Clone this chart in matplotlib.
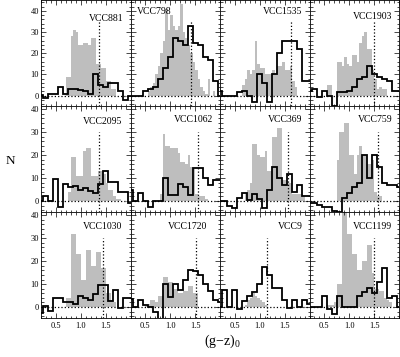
import matplotlib
matplotlib.use('Agg')
import matplotlib.pyplot as plt
import numpy as np
from matplotlib.ticker import MultipleLocator

plt.rcParams['font.family'] = ['Liberation Serif', 'DejaVu Serif']
plt.rcParams['mathtext.fontset'] = 'custom'
plt.rcParams['mathtext.rm'] = 'Liberation Serif'
plt.rcParams['mathtext.it'] = 'Liberation Serif:italic'

# galaxy names, row by row
names = ['VCC881', 'VCC798', 'VCC1535', 'VCC1903',
         'VCC2095', 'VCC1062', 'VCC369', 'VCC759',
         'VCC1030', 'VCC1720', 'VCC9', 'VCC1199']

# colour of the dotted vertical line in each panel
cut = [1.36, 1.41, 1.62, 1.49,
       1.37, 1.56, 1.56, 1.57,
       1.44, 1.51, 1.15, 1.50]

# black histograms: 0.1 bins centred on 0.2, 0.3, ..., 2.0
black = [
    [0.5, -1, 1, 1, 4, 1, 3, 3, 2.5, 2, 1, 10, 5, 4, 6, 6, 2, -2, 0],
    [0, 0, 0, 2, 3, 4, 8, 13, 18, 27, 26, 24, 33, 25, 24, 18, 17, 7, 0],
    [2, 0, 0, 0, 1.5, 2, 0, -3, 10, 6, -3, 10, 20, 26, 26, 26, 22, 7, 7],
    [2, 3, -0.5, 2, 0, -5, 1.5, 1.5, 2, 4, 8, 9, 14, 10, 9, 8, 7, 2, 2],
    [0, 2, 0, 9.5, -2.5, 7.5, 6, 6.5, 5, 5.5, 4.5, 3.5, 7.5, 13, 8.5, 8.5, 4, 4, -1],
    [5, 0, 3.5, 0, -2.5, 0, 0, 10, 2.5, 2.5, 7.5, 6, 2.5, 14.5, 14.5, 10, 7, 9, 9],
    [0, 0, -2, -3, 1.5, 3.5, 0.5, 3, 1, -3, 5, 15, 10, 7, 12, 4, 7, 2, 2],
    [-1, -1, -1.7, -2.7, -2.7, -4.3, -4.9, 1.4, 3.5, 6, 8, 20, 10, 20, 15, 8, 7, 7, 6],
    [-2.5, 0.5, -1.5, 4, 4, 2, 2, 1.5, 5, 4, 3, 5.5, 9.5, 9.5, 2.5, 7.5, -0.5, 4, 4],
    [3.5, 0, 3, 1, 0, -2, -6, 10, 4.5, 10, 7.5, 12, 16, 15.5, 14, 10, 7, 3, 2],
    [0, 7.5, 0, 7.5, -1, 2.5, 5, 6.5, 10, 17.5, 14, 8.5, 8.5, 3, -0.5, 3, 0, 3, 1.5],
    [0, 0, 0, 5, -1, -3, 5, 0, 0, 0, 5, 6.5, 8.5, 6, 11, 17, 4, 5, 0],
]

# grey histograms: 0.05 bins, first bin starting at gray_start
gray_start = [0.70, 0.55, 0.65, 0.55,
              0.75, 0.80, 0.70, 0.75,
              0.70, 0.50, 0.70, 0.55]
gray = [
    [9, 9, 28, 31, 30, 24, 24, 25, 25, 24, 27, 27, 15, 15, 13, 13, 7, 7, 3, 3],
    [2, 4, 6, 10, 14, 20, 26, 41, 31, 38, 33, 31, 33, 43, 30, 27, 24, 20, 16,
     12, 8, 4, 2, 1, 8, 0, 2],
    [5, 8, 12, 10, 12, 26, 15, 13, 13, 10, 10, 10, 12, 10, 14, 14, 16, 12, 12,
     14, 7, 4],
    [5, 5, 0, 0, 16, 16, 14, 18, 15, 14, 19, 19, 16, 25, 28, 30, 22, 22, 12, 8,
     3, 4, 3, 3],
    [4, 19, 19, 11, 11, 11, 22, 23, 23, 11, 11, 11, 13, 13, 12, 8, 5, 5, 2, 1, 1],
    [3, 29, 24, 24, 23, 23, 23, 21, 17, 17, 16, 20, 15, 14, 3, 2, 2, 2, 1],
    [3, 5, 8, 25, 25, 20, 19, 19, 22, 13, 13, 28, 28, 32, 32, 9, 9, 8, 8, 3, 3,
     3, 3, 2],
    [18, 30, 30, 34, 34, 20, 20, 12, 20, 24, 20, 20, 16, 16, 18, 4, 2, 2],
    [4, 4, 32, 32, 23, 23, 12, 12, 25, 25, 18, 18, 24, 24, 17, 17, 6, 6, 3, 2],
    [1, 1.5, 3, 3, 2, 5, 5, 13, 13, 11, 11, 8, 8, 6, 6, 7, 7, 9, 9, 6, 6],
    [1, 3, 4, 6, 5, 4, 3, 2, 1],
    [1, 1, 1, 2, 10, 10, 45, 45, 32, 32, 23, 23, 16, 16, 20, 20, 27, 27, 15, 8,
     8, 7, 7, 4, 3, 2],
]

# label positions (axes fraction, left edge of text)
label_pos = [(0.53, 0.83), (0.07, 0.89), (0.48, 0.89), (0.49, 0.84),
             (0.47, 0.85), (0.48, 0.87), (0.54, 0.87), (0.54, 0.87),
             (0.47, 0.86), (0.42, 0.86), (0.65, 0.86), (0.49, 0.86)]

row_ylim = [(-4.9, 45.1), (-4.8, 41.4), (-4.8, 41.4)]
row_cut_top = [35, 30, 30]

GREY = '#bebebe'
black_edges = np.arange(0.15, 2.06, 0.1)

fig, axes = plt.subplots(3, 4, figsize=(4.0, 3.57), dpi=100)
fig.subplots_adjust(left=0.1025, right=0.9975, top=1.0, bottom=0.109,
                    wspace=0, hspace=0)

for i, ax in enumerate(axes.flat):
    r, c = divmod(i, 4)
    ylo, yhi = row_ylim[r]

    g = np.array(gray[i], dtype=float)
    g_edges = gray_start[i] + 0.05 * np.arange(len(g) + 1)
    ax.stairs(g, g_edges, fill=True, color=GREY, lw=0, zorder=1)

    ax.axhline(0, color='black', ls=':', lw=0.9, zorder=2)
    ax.vlines(cut[i], ylo, row_cut_top[r], color='black', ls=':', lw=0.9, zorder=2)

    ax.stairs(black[i], black_edges, baseline=None, color='black', lw=1.3, zorder=3)

    ax.text(label_pos[i][0], label_pos[i][1], names[i], transform=ax.transAxes,
            fontsize=7, ha='left', va='center')

    ax.set_xlim(0.2, 2.0)
    ax.set_ylim(ylo, yhi)
    ax.xaxis.set_major_locator(MultipleLocator(0.5))
    ax.xaxis.set_minor_locator(MultipleLocator(0.1))
    ax.yaxis.set_major_locator(MultipleLocator(10))
    ax.yaxis.set_minor_locator(MultipleLocator(2))
    ax.tick_params(which='both', direction='in', top=True, right=True,
                   width=0.5, labelsize=6, pad=1.5)
    ax.tick_params(which='major', length=3.5)
    ax.tick_params(which='minor', length=1.8)
    ax.tick_params(axis='x', pad=3)
    for s in ax.spines.values():
        s.set_linewidth(0.6)

    if c != 0:
        ax.tick_params(labelleft=False)
    if r != 2:
        ax.tick_params(labelbottom=False)
    else:
        ax.set_xticks([0.5, 1.0, 1.5])
        ax.set_xticklabels(['0.5', '1.0', '1.5'])

fig.text(0.014, 0.55, 'N', fontsize=9.5, ha='left', va='center')
fig.text(0.555, 0.045, r'(g$-$z)$_{\mathrm{0}}$', fontsize=10, ha='center', va='center')

fig.savefig('out.png', dpi=100)
